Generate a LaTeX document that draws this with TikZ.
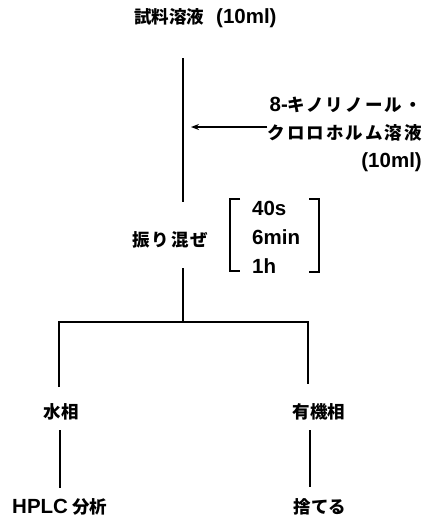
\documentclass[tikz,border=0pt]{standalone}
\usepackage{fontspec}
\newfontfamily\jp{Noto Sans CJK JP}
\newfontfamily\latfont{Liberation Sans}
\newcommand\latx[1]{{\latfont\bfseries\fontsize{20.5}{28}\selectfont #1}}
\usetikzlibrary{arrows.meta}
\begin{document}
\begin{tikzpicture}[x=1pt,y=-1pt,
  lbl/.style={inner sep=0pt, font=\jp\bfseries\fontsize{17.5}{28}\selectfont},
  wide/.style={font=\jp\bfseries\fontsize{17.5}{28}\selectfont\addfontfeature{LetterSpace=12}},
  ln/.style={line width=2pt},
  arr/.style={line width=1.5pt,-{Stealth[length=8pt,width=6pt]}}]
\useasboundingbox (0,0) rectangle (426,517);

% nodes
\node[lbl, anchor=west] (title) at (134,18) {試料溶液\hspace{12pt}\latx{(10ml)}};
\node[lbl, wide, align=right, anchor=east] (reagent) at (422,134) {\latx{8-}キノリノール・\\クロロホルム溶液\\\latx{(10ml)}};
\node[lbl, wide, anchor=west] (shake) at (132,240) {振り混ぜ};
\node[lbl, align=left, anchor=west, font=\latfont\bfseries\fontsize{20.5}{29}\selectfont] (times) at (252,237) {40s\\6min\\1h};
\node[lbl] (aq) at (61,412) {水相};
\node[lbl] (org) at (319,412) {有機相};
\node[lbl, anchor=west] (hplc) at (12,507) {\latx{HPLC} 分析};
\node[lbl] (waste) at (320,507) {捨てる};

% coordinates
\coordinate (m1) at (183,58);
\coordinate (m2) at (183,202);
\coordinate (m3) at (183,268);
\coordinate (j) at (183,322);
\coordinate (jl) at (59,322);
\coordinate (jr) at (308,322);
\coordinate (al) at (59,387);
\coordinate (ar) at (308,384);
\coordinate (bl1) at (60,430);
\coordinate (bl2) at (60,488);
\coordinate (br1) at (310,430);
\coordinate (br2) at (310,487);
\coordinate (ah) at (191,127);

% connectors
\draw[ln] (m1) -- (m2);
\draw[ln] (m3) -- (j);
\draw[ln] (al) -- (jl) -- (jr) -- (ar);
\draw[ln] (bl1) -- (bl2);
\draw[ln] (br1) -- (br2);
\draw[arr] (reagent.west |- ah) -- (ah);

% brackets
\draw[ln] (240,199) -- (230,199) -- (230,271) -- (240,271);
\draw[ln] (309,199) -- (319,199) -- (319,272) -- (309,272);
\end{tikzpicture}
\end{document}
